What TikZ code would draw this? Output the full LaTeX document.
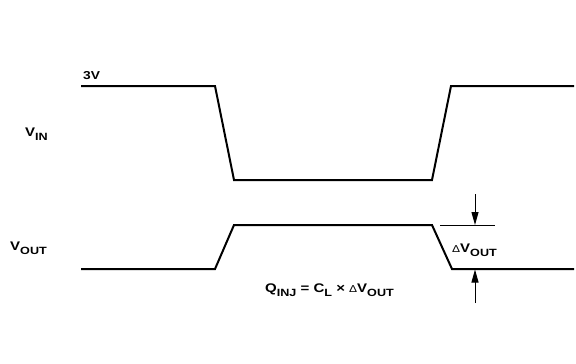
\documentclass[tikz,border=0pt]{standalone}
\usepackage{fontspec}
\setmainfont[FakeStretch=1.2]{Liberation Sans}
\newfontfamily\deltafont[FakeStretch=1.2]{Liberation Sans}
\usetikzlibrary{arrows.meta}
\newcommand{\lowsub}[1]{\raisebox{-4pt}{\fontsize{10.5}{11}\selectfont #1}}
\newcommand{\dlt}{{\deltafont\mdseries\fontsize{10}{11}\selectfont Δ}}
\begin{document}
\begin{tikzpicture}[x=1pt,y=-1pt,
  wave/.style={line width=2pt,line join=miter},
  dim/.style={line width=1pt},
  dimarrow/.style={line width=1pt,-{Triangle[length=13pt,width=7pt]}},
  lbl/.style={font=\bfseries\fontsize{12.5}{14}\selectfont,inner sep=0pt}]
\useasboundingbox (0,0) rectangle (576,364);
% VIN waveform
\coordinate (i0) at (81,86);
\coordinate (i1) at (215,86);
\coordinate (i2) at (234,180);
\coordinate (i3) at (432,180);
\coordinate (i4) at (451,86);
\coordinate (i5) at (574,86);
\draw[wave] (i0) -- (i1) -- (i2) -- (i3) -- (i4) -- (i5);
% VOUT waveform
\coordinate (o0) at (81,269);
\coordinate (o1) at (215,269);
\coordinate (o2) at (234,225);
\coordinate (o3) at (432,225);
\coordinate (o4) at (452,269);
\coordinate (o5) at (574,269);
\draw[wave] (o0) -- (o1) -- (o2) -- (o3) -- (o4) -- (o5);
% dimension
\coordinate (e0) at (440,225.5);
\coordinate (e1) at (495,225.5);
\draw[dim] (e0) -- (e1);
\coordinate (a0) at (475,194);
\coordinate (a1) at (475,225);
\draw[dimarrow] (a0) -- (a1);
\coordinate (b0) at (475,303);
\coordinate (b1) at (475,269.5);
\draw[dimarrow] (b0) -- (b1);
% labels
\node[lbl,anchor=base west,font=\bfseries\fontsize{11.5}{13}\selectfont] (v3) at (83,79) {3V};
\node[lbl,anchor=base west] (vin) at (25,136) {V\lowsub{IN}};
\node[lbl,anchor=base west] (vout) at (10,250) {V\lowsub{OUT}};
\node[lbl,anchor=base west] (dv) at (452,252) {\dlt V\lowsub{OUT}};
\node[lbl,anchor=base west] (q) at (265,292) {Q\lowsub{INJ} = C\lowsub{L} × \dlt V\lowsub{OUT}};
\end{tikzpicture}
\end{document}
